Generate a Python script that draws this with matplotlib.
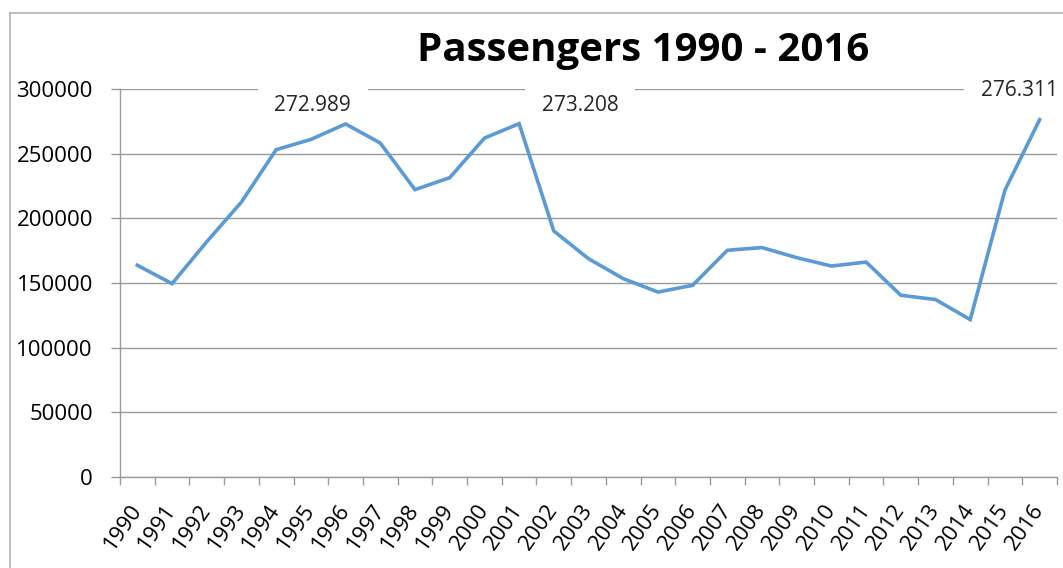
import matplotlib
matplotlib.use("Agg")
import matplotlib.pyplot as plt
from matplotlib.lines import Line2D
import numpy as np

years = ["1990", "1991", "1992", "1993", "1994", "1995", "1996", "1997", "1998",
         "1999", "2000", "2001", "2002", "2003", "2004", "2005", "2006", "2007",
         "2008", "2009", "2010", "2011", "2012", "2013", "2014", "2015", "2016"]
passengers = [163700, 149500, 181900, 212600, 253100, 261000, 272989, 258200, 222200,
              231400, 262000, 273208, 190200, 168800, 153400, 143000, 148200, 175300,
              177400, 169600, 163100, 166200, 140500, 137200, 121700, 221800, 276311]
labelled = {6: "272.989", 11: "273.208", 26: "276.311"}
label_offsets = {6: (-33, 18), 11: (61, 18), 26: (-20, 29)}  # pixels
title = "Passengers 1990 - 2016"
yticks = [0, 50000, 100000, 150000, 200000, 250000, 300000]

W, H = 1063, 568
DPI = 100
fig = plt.figure(figsize=(W / DPI, H / DPI), dpi=DPI)
plt.rcParams['font.family'] = ['Open Sans', 'DejaVu Sans']

# outer chart border
fig.add_artist(Line2D([10 / W, 10 / W], [0, 1 - 13 / H], color="#b0b0b0", lw=1.2,
                      transform=fig.transFigure))
fig.add_artist(Line2D([10 / W, 1], [1 - 13 / H, 1 - 13 / H], color="#b0b0b0", lw=1.2,
                      transform=fig.transFigure))

left, right, top, bottom = 120, 1057, 89, 477
ax = fig.add_axes([left / W, 1 - bottom / H, (right - left) / W, (bottom - top) / H])

x = np.arange(len(years))
ax.plot(x, passengers, color="#5B9BD5", lw=2.6, solid_joinstyle="miter", zorder=3)

ax.set_xlim(-0.5, len(years) - 0.5)
ax.set_ylim(0, 300000)
ax.set_yticks(yticks)
ax.set_yticklabels([str(v) for v in yticks])
ax.grid(axis="y", color="#9a9a9a", lw=1.0, zorder=0)
ax.set_axisbelow(True)

for s in ["top", "right"]:
    ax.spines[s].set_visible(False)
for s in ["left", "bottom"]:
    ax.spines[s].set_color("#9a9a9a")
    ax.spines[s].set_linewidth(1.0)

ax.tick_params(axis="y", length=6.5, width=1.0, color="#9a9a9a", pad=13,
               labelsize=16, labelcolor="#000000")
ax.set_xticks(x)
ax.set_xticklabels(years, rotation=55, ha="right", va="center",
                   rotation_mode="anchor", fontsize=16)
ax.tick_params(axis="x", which="major", length=0, pad=21)
ax.set_xticks(np.arange(-0.5, len(years)), minor=True)
ax.tick_params(axis="x", which="minor", length=6, width=1.0, color="#9a9a9a")

for i, txt in labelled.items():
    dx, dy = label_offsets[i]
    ax.annotate(txt, xy=(i, passengers[i]), xytext=(dx * 72 / DPI, dy * 72 / DPI),
                textcoords="offset points", ha="center", va="center", fontsize=15,
                color="#262626", annotation_clip=False, zorder=2,
                bbox=dict(boxstyle="square,pad=0.8", fc="white", ec="none"))

fig.text(643 / W, 1 - 50 / H, title, ha="center", va="center", fontsize=29,
         fontweight="bold", color="#000000")

fig.savefig("out.png", dpi=DPI, facecolor="white")
